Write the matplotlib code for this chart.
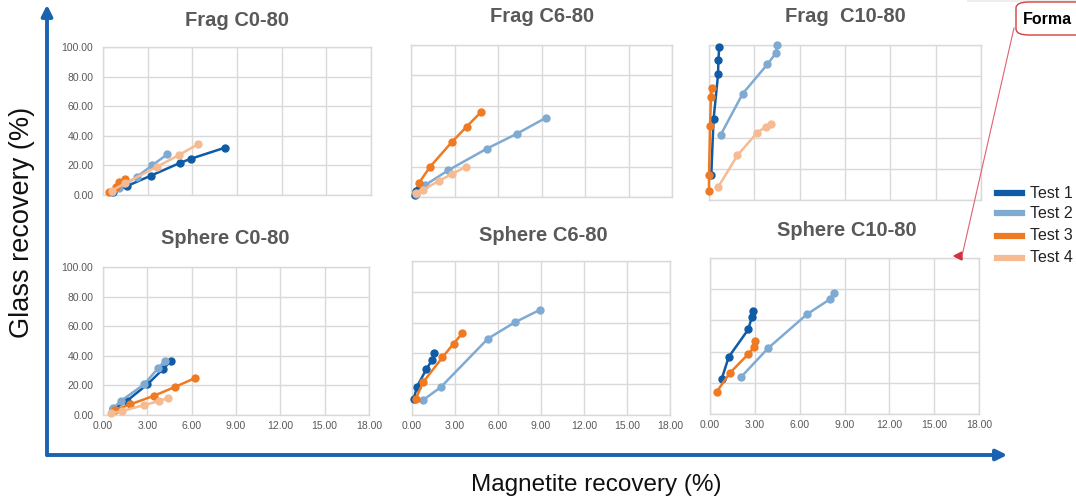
import matplotlib
matplotlib.use('Agg')
import matplotlib.pyplot as plt
from matplotlib.patches import FancyArrowPatch, FancyBboxPatch, Polygon, Rectangle
from matplotlib.lines import Line2D

W, H = 1076, 503

tests = ['Test 1', 'Test 2', 'Test 3', 'Test 4']
colors = ['#0f5ba5', '#7faad2', '#ef7a22', '#f6bb92']

x_ticks = [0, 3, 6, 9, 12, 15, 18]
x_ticklabels = ['0.00', '3.00', '6.00', '9.00', '12.00', '15.00', '18.00']
y_ticks = [0, 20, 40, 60, 80, 100]
y_ticklabels = ['0.00', '20.00', '40.00', '60.00', '80.00', '100.00']

# magnetite recovery (x) / glass recovery (y), one list per test
frag_c0_x = [[0.7, 1.6, 3.2, 5.2, 5.9, 8.2],
             [0.6, 1.1, 2.3, 3.3, 4.3],
             [0.4, 0.9, 1.1, 1.5],
             [0.6, 1.5, 3.6, 5.1, 6.4]]
frag_c0_y = [[2.0, 6.0, 13.0, 21.8, 24.5, 32.0],
             [2.0, 4.5, 12.5, 20.0, 27.4],
             [2.2, 5.5, 9.0, 10.6],
             [3.0, 8.0, 19.0, 27.0, 34.4]]

frag_c6_x = [[0.25, 0.35, 0.55],
             [0.32, 0.96, 2.57, 5.25, 7.28, 9.34],
             [0.57, 1.31, 2.8, 3.83, 4.82],
             [0.32, 0.85, 1.95, 2.8, 3.77]]
frag_c6_y = [[1.0, 4.0, 5.5],
             [1.8, 7.7, 17.6, 31.9, 41.5, 52.3],
             [9.5, 19.8, 36.0, 46.2, 55.8],
             [2.6, 4.8, 10.8, 15.0, 19.8]]

frag_c10_x = [[0.15, 0.3, 0.6, 0.62, 0.68],
              [0.77, 2.23, 3.86, 4.44, 4.5],
              [0.0, 0.0, 0.07, 0.13, 0.18],
              [0.62, 1.88, 3.18, 3.77, 4.1]]
frag_c10_y = [[16.0, 52.0, 81.0, 90.0, 99.0],
              [42.0, 68.6, 87.5, 95.0, 100.0],
              [6.0, 16.0, 48.0, 66.6, 72.0],
              [8.6, 28.8, 43.4, 47.3, 49.2]]

sphere_c0_x = [[0.7, 1.6, 3.0, 4.06, 4.6],
               [0.68, 1.24, 2.78, 3.72, 4.18],
               [0.8, 1.85, 3.45, 4.9, 6.25],
               [0.56, 1.29, 2.78, 3.8, 4.4]]
sphere_c0_y = [[4.0, 9.4, 20.7, 31.0, 36.6],
               [4.5, 9.7, 20.7, 31.5, 36.6],
               [3.4, 7.2, 13.0, 19.1, 25.0],
               [1.1, 2.7, 6.7, 9.4, 11.5]]

sphere_c6_x = [[0.12, 0.35, 1.0, 1.4, 1.54],
               [0.77, 2.0, 5.3, 7.18, 8.95],
               [0.26, 0.77, 2.12, 2.9, 3.5],
               []]
sphere_c6_y = [[10.4, 18.4, 29.7, 35.7, 40.5],
               [9.7, 18.0, 49.6, 60.2, 68.4],
               [10.4, 21.2, 37.4, 46.3, 53.0],
               []]

sphere_c10_x = [[0.78, 1.25, 2.56, 2.8, 2.87],
                [2.1, 3.9, 6.5, 8.0, 8.3],
                [0.45, 1.34, 2.56, 2.96, 3.0],
                []]
sphere_c10_y = [[22.4, 36.5, 54.2, 62.1, 66.3],
                [23.9, 42.3, 64.0, 73.4, 77.8],
                [14.3, 26.4, 38.4, 42.9, 46.5],
                []]

panel_titles = ['Frag C0-80', 'Frag C6-80', 'Frag  C10-80',
                'Sphere C0-80', 'Sphere C6-80', 'Sphere C10-80']


def box(left, top, right, bottom):
    return [left / W, 1 - bottom / H, (right - left) / W, (bottom - top) / H]


def fp(x, y):
    return (x / W, 1 - y / H)


fig = plt.figure(figsize=(W / 100, H / 100), dpi=100)
plt.rcParams['font.family'] = ['Liberation Sans', 'DejaVu Sans']

panels = [
    (box(103, 47, 371, 195), frag_c0_x, frag_c0_y, True, False, (237, 20)),
    (box(411, 45, 672, 197), frag_c6_x, frag_c6_y, False, False, (542, 17)),
    (box(709, 45, 981, 200), frag_c10_x, frag_c10_y, False, False, (845, 17)),
    (box(103, 267, 369, 415), sphere_c0_x, sphere_c0_y, True, True, (225, 238)),
    (box(412, 261, 670, 415), sphere_c6_x, sphere_c6_y, False, True, (543, 235)),
    (box(710, 258, 979, 414), sphere_c10_x, sphere_c10_y, False, True, (847, 230)),
]

for (rect, xs, ys, show_y, show_x, tpos), title in zip(panels, panel_titles):
    ax = fig.add_axes(rect)
    for i in range(4):
        if len(xs[i]) == 0:
            continue
        ax.plot(xs[i], ys[i], color=colors[i], lw=1.8, marker='o', ms=5,
                clip_on=False, zorder=3 + i)
    ax.set_xlim(0, 18)
    ax.set_ylim(0, 100)
    ax.set_xticks(x_ticks)
    ax.set_yticks(y_ticks)
    ax.grid(True, color='#d9d9d9', lw=1)
    ax.set_axisbelow(True)
    for s in ax.spines.values():
        s.set_color('#d9d9d9')
        s.set_linewidth(1)
    ax.tick_params(length=0, colors='#595959', labelsize=7.5)
    if show_y:
        ax.set_yticklabels(y_ticklabels)
        ax.tick_params(axis='y', pad=7)
    else:
        ax.set_yticklabels([])
    if show_x:
        ax.set_xticklabels(x_ticklabels)
        ax.tick_params(axis='x', pad=4)
    else:
        ax.set_xticklabels([])
    fig.text(*fp(*tpos), title, ha='center', va='center', fontsize=14.5,
             fontweight='bold', color='#595959')

# big axis arrows
fig.patches.append(FancyArrowPatch(fp(47, 458), fp(47, 2), transform=fig.transFigure,
                                   arrowstyle='-|>', mutation_scale=16, lw=2.8,
                                   color='#1a62b0'))
fig.patches.append(FancyArrowPatch(fp(45, 455), fp(1010, 455), transform=fig.transFigure,
                                   arrowstyle='-|>', mutation_scale=16, lw=2.8,
                                   color='#1a62b0'))

fig.text(*fp(22, 222), 'Glass recovery (%)', rotation=90, ha='center', va='center',
         fontsize=19.5, color='#111111')
fig.text(*fp(596, 485), 'Magnetite recovery (%)', ha='center', va='center',
         fontsize=17.5, color='#111111')

# legend
leg_y = [193, 213, 236, 258]
for name, c, y in zip(tests, colors, leg_y):
    fig.lines.append(Line2D([997 / W, 1022 / W], [1 - y / H, 1 - y / H],
                            transform=fig.transFigure, color=c, lw=4.5))
    fig.text(*fp(1030, y), name, ha='left', va='center', fontsize=11.5,
             color='#222222')

# callout box cut off at the right edge
fig.patches.append(Rectangle(fp(967, 2), (W - 967) / W, 2 / H, transform=fig.transFigure,
                             color='#eeeeee', lw=0))
fig.patches.append(FancyBboxPatch(fp(1016, 35), 100 / W, 33 / H, transform=fig.transFigure,
                                  boxstyle='round,pad=0,rounding_size=0.012',
                                  fc='white', ec='#d04040', lw=1))
fig.text(*fp(1023, 20), 'Forma', ha='left', va='center', fontsize=11.5,
         fontweight='bold', color='black')
fig.lines.append(Line2D([1014 / W, 962 / W], [1 - 28 / H, 1 - 256 / H],
                        transform=fig.transFigure, color='#e06070', lw=0.8))
fig.patches.append(Polygon([fp(954, 256), fp(962, 252), fp(962, 260)], closed=True,
                           transform=fig.transFigure, color='#d03040'))

fig.savefig('out.png', dpi=100)
